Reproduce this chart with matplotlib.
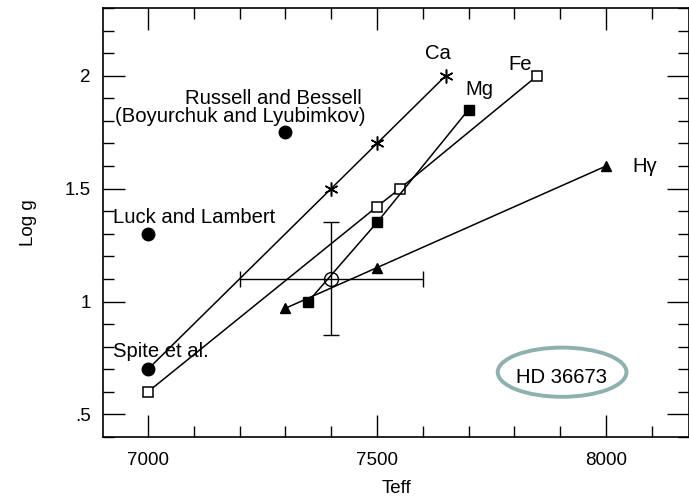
import matplotlib
matplotlib.use("Agg")
import matplotlib.pyplot as plt
from matplotlib.patches import Ellipse
from matplotlib.ticker import MultipleLocator, FixedLocator

plt.rcParams['font.family'] = ['Liberation Sans', 'DejaVu Sans']

# ionisation / excitation balance lines
ca_teff = [7000, 7400, 7500, 7650]
ca_logg = [0.7, 1.5, 1.7, 2.0]
fe_teff = [7000, 7500, 7550, 7850]
fe_logg = [0.6, 1.42, 1.5, 2.0]
mg_teff = [7350, 7500, 7700]
mg_logg = [1.0, 1.35, 1.85]
hg_teff = [7300, 7500, 8000]
hg_logg = [0.97, 1.15, 1.6]

# previous determinations
lit_names = ["Russell and Bessell\n(Boyurchuk and Lyubimkov)", "Luck and Lambert", "Spite et al."]
lit_teff = [7300, 7000, 7000]
lit_logg = [1.75, 1.3, 0.7]

# adopted value with errors
adopt_teff, adopt_logg = 7400, 1.1
adopt_dteff, adopt_dlogg = 200, 0.25

fig = plt.figure(figsize=(6.89, 4.98), dpi=100)
ax = fig.add_axes([0.1495, 0.1225, 0.8505, 0.8615])

lw = 1.1
fs = 13.5   # tick / axis labels
ft = 14.6   # labels inside the frame
ax.plot(ca_teff[1:], ca_logg[1:], ls='none', marker=(6, 2, 0), ms=10, mec='k', mew=1.1)
ax.plot(ca_teff, ca_logg, color='k', lw=lw)
ax.plot(fe_teff, fe_logg, color='k', lw=lw, marker='s', ms=6.5, mfc='white', mec='k', mew=1.1)
ax.plot(mg_teff, mg_logg, color='k', lw=lw, marker='s', ms=6.5, mfc='k', mec='k')
ax.plot(hg_teff, hg_logg, color='k', lw=lw, marker='^', ms=7.5, mfc='k', mec='k')

ax.errorbar(adopt_teff, adopt_logg, xerr=adopt_dteff, yerr=adopt_dlogg, fmt='o',
            ms=10, mfc='none', mec='k', mew=1.0, ecolor='k', elinewidth=1.0,
            capsize=5.5, capthick=1.0, zorder=4)

ax.plot(lit_teff, lit_logg, ls='none', marker='o', ms=9, color='k', zorder=5)

# literature labels
ax.text(7081, 1.898, "Russell and Bessell", fontsize=ft, ha='left', va='center')
ax.text(6928, 1.818, "(Boyurchuk and Lyubimkov)", fontsize=ft, ha='left', va='center')
ax.text(6924, 1.373, lit_names[1], fontsize=ft, ha='left', va='center')
ax.text(6924, 0.78, lit_names[2], fontsize=ft, ha='left', va='center')

# line labels
ax.text(7605, 2.098, "Ca", fontsize=ft, ha='left', va='center')
ax.text(7694, 1.938, "Mg", fontsize=ft, ha='left', va='center')
ax.text(7786, 2.049, "Fe", fontsize=ft, ha='left', va='center')
ax.text(8057, 1.596, "H\u03b3", fontsize=ft, ha='left', va='center')

ax.text(7902, 0.665, "HD 36673", fontsize=ft, ha='center', va='center')
ax.add_patch(Ellipse((7904, 0.687), 281, 0.218, fill=False, ec='#8eb0b0', lw=2.8))

ax.set_xlim(6902, 8181)
ax.set_ylim(0.4, 2.3)
ax.xaxis.set_major_locator(FixedLocator([7000, 7500, 8000]))
ax.xaxis.set_minor_locator(MultipleLocator(100))
ax.yaxis.set_major_locator(FixedLocator([0.5, 1.0, 1.5, 2.0]))
ax.yaxis.set_minor_locator(MultipleLocator(0.1))
ax.set_xticklabels(["7000", "7500", "8000"])
ax.set_yticklabels([".5", "1", "1.5", "2"])
ax.tick_params(which='both', direction='in', top=True, right=True, width=1.0,
               labelsize=fs)
ax.tick_params(axis='x', pad=11)
ax.tick_params(axis='y', pad=9)
ax.tick_params(which='major', length=16)
ax.tick_params(which='minor', length=8)
for sp in ax.spines.values():
    sp.set_linewidth(1.2)

ax.set_xlabel("Teff", fontsize=fs, labelpad=8)
ax.set_ylabel("Log g", fontsize=fs, labelpad=20)

fig.savefig("out.png", dpi=100)
